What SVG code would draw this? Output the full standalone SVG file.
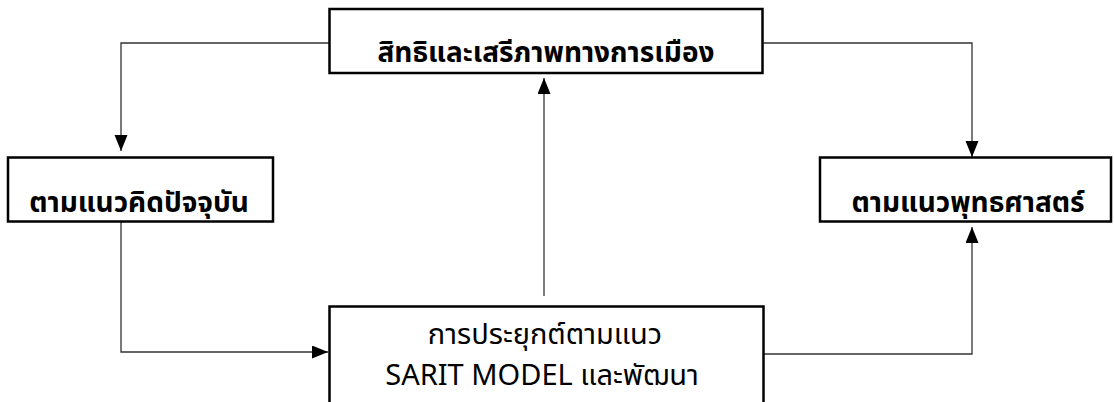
<svg xmlns="http://www.w3.org/2000/svg" width="1114" height="402" viewBox="0 0 1114 402">
<style>
.box{fill:#fff;stroke:#000;stroke-width:2.5}
.con{fill:none;stroke:#333;stroke-width:1.3}
.t{font-family:"Noto Sans Thai","Noto Sans","DejaVu Sans",sans-serif;fill:#000;text-anchor:middle}
.big{font-size:28px;font-weight:bold}
.small{font-size:29px;font-weight:normal}
</style>
<defs>
<marker id="arr" markerUnits="userSpaceOnUse" markerWidth="16" markerHeight="14" refX="16" refY="6.5" orient="auto">
<path d="M0,0 L16,6.5 L0,13 z" fill="#000"/>
</marker>
</defs>
<rect x="0" y="0" width="1114" height="402" fill="#fff"/>
<g id="connectors">
<path class="con" d="M329,43 H121 V151" marker-end="url(#arr)"/>
<path class="con" d="M763,43 H972 V157" marker-end="url(#arr)"/>
<path class="con" d="M121,222 V352 H328" marker-end="url(#arr)"/>
<path class="con" d="M764,354 H972 V227" marker-end="url(#arr)"/>
<path class="con" d="M544,296 V78" marker-end="url(#arr)"/>
</g>
<g id="node-top">
<rect class="box" x="329.5" y="9" width="433" height="64"/>
<text class="t big" x="546" y="62">สิทธิและเสรีภาพทางการเมือง</text>
</g>
<g id="node-left">
<rect class="box" x="8" y="157.5" width="265" height="64"/>
<text class="t big" x="139" y="212">ตามแนวคิดปัจจุบัน</text>
</g>
<g id="node-right">
<rect class="box" x="820" y="157.5" width="291" height="64"/>
<text class="t big" x="968" y="212">ตามแนวพุทธศาสตร์</text>
</g>
<g id="node-bottom">
<rect class="box" x="329.5" y="306.5" width="434" height="110"/>
<text class="t small" x="545" y="344">การประยุกต์ตามแนว</text>
<text class="t small" x="542" y="385">SARIT MODEL และพัฒนา</text>
</g>
</svg>
